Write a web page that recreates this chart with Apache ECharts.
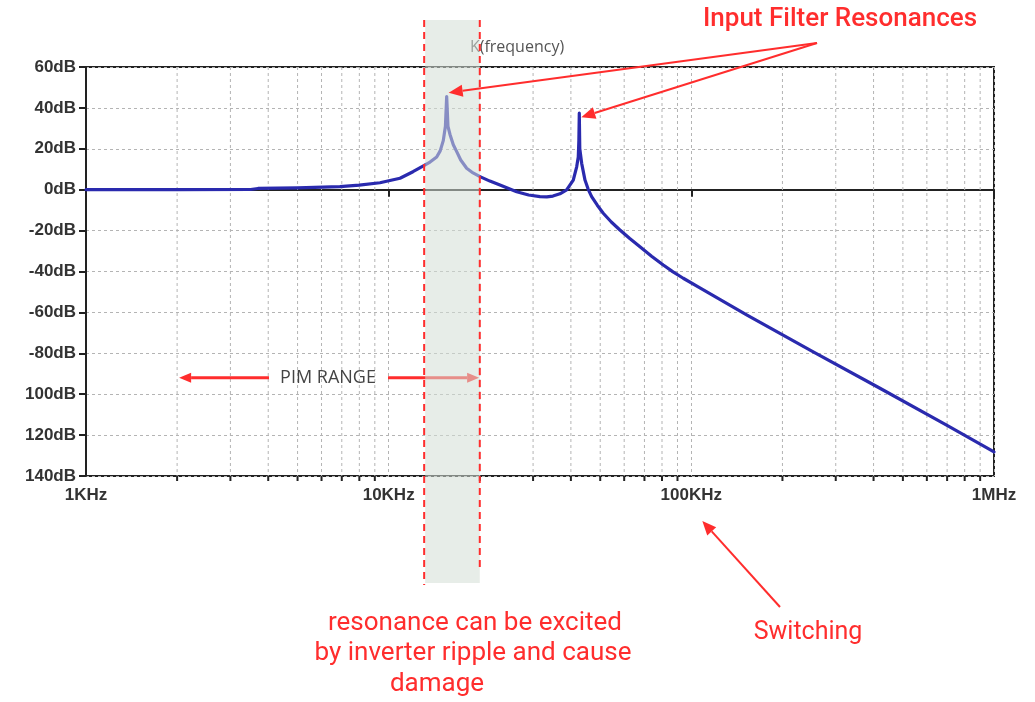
<!DOCTYPE html>
<html><head><meta charset="utf-8">
<script src="https://cdn.jsdelivr.net/npm/echarts@6/dist/echarts.min.js"></script>
<style>html,body{margin:0;padding:0;background:#fff}#c{width:1035px;height:702px}</style>
</head><body><div id="c"></div>
<script>
// ---- data ----
const freqHz = [1000, 2000, 3500, 3700, 5000, 6900, 8000, 9360, 10900, 12030, 12980, 13700, 14410, 14800, 15150, 15400, 15548, 15700, 15945, 16350, 16780, 17300, 18100, 19000, 20030, 21600, 23320, 26480, 29000, 31610, 33300, 34890, 36800, 38730, 40730, 41800, 42310, 42500, 42640, 42800, 43420, 44530, 45600, 46840, 48900, 51170, 54400, 58080, 62600, 67650, 73900, 80780, 87000, 94040, 105000, 152300, 252800, 419900, 697300, 1000000];
const gainDb = [0, 0, 0.1, 0.6, 0.9, 1.5, 2.2, 3.4, 5.6, 8.8, 11.5, 13.5, 16, 19, 24, 31, 45.5, 31, 27, 22, 18.6, 14.5, 10.5, 8.2, 6.4, 4.2, 2.3, -1, -2.6, -3.4, -3.5, -3.1, -2.0, -0.1, 4.7, 11.2, 16, 24, 37.4, 20, 12.9, 4.7, 0.3, -3.4, -7.6, -11.5, -15.8, -19.7, -23.9, -27.9, -32.5, -36.8, -40.2, -43.3, -47.4, -61.2, -79.3, -97.1, -115.1, -128.2];
const xTickValues = [1000, 10000, 100000, 1000000];
const xTickLabels = ['1KHz', '10KHz', '100KHz', '1MHz'];
const minorFreqs = [2000, 3000, 4000, 5000, 6000, 7000, 8000, 9000, 20000, 30000, 40000, 50000, 60000, 70000, 80000, 90000, 200000, 300000, 400000, 500000, 600000, 700000, 800000, 900000];
const yTickValues = [-140, -120, -100, -80, -60, -40, -20, 0, 20, 40, 60];
const yTickLabels = ['140dB', '120dB', '100dB', '-80dB', '-60dB', '-40dB', '-20dB', '0dB', '20dB', '40dB', '60dB'];
const bandFreqs = [13100, 20000];
const peakFreqs = [15548, 42640];
const peakDb = [45.5, 37.4];
const pimRangeFreqs = [2000, 19900];
const pimRangeDb = -92;

const chart = echarts.init(document.getElementById('c'));
const yMin = -140, yMax = 60;
const gridColor = '#b4b4b4';
chart.setOption({
  animation: false,
  backgroundColor: '#fff',
  grid: { left: 86, right: 41, top: 67, bottom: 226, show: true, borderColor: '#222', borderWidth: 2, backgroundColor: 'transparent' },
  xAxis: {
    type: 'log', logBase: 10, min: 1000, max: 1000000,
    axisLine: { show: true, lineStyle: { color: '#222', width: 2 } },
    axisTick: { show: true, length: 7, lineStyle: { color: '#222', width: 2 } },
    axisLabel: {
      margin: 11, color: '#333', fontFamily: 'Liberation Sans', fontWeight: 'bold', fontSize: 17,
      showMinLabel: true, showMaxLabel: true,
      formatter: v => xTickLabels[Math.round(Math.log10(v)) - 3]
    },
    splitLine: { show: true, lineStyle: { color: gridColor, width: 1, type: [3, 3] } }
  },
  yAxis: {
    type: 'value', min: yMin, max: yMax, interval: 20,
    axisLine: { show: true, lineStyle: { color: '#222', width: 2 } },
    axisTick: { show: true, length: 7, lineStyle: { color: '#222', width: 2 } },
    axisLabel: {
      margin: 10, color: '#333', fontFamily: 'Liberation Sans', fontWeight: 'bold', fontSize: 17,
      formatter: v => yTickLabels[yTickValues.indexOf(v)]
    },
    splitLine: { show: true, lineStyle: { color: gridColor, width: 1, type: [3, 3] } }
  },
  series: [
    {
      type: 'custom', z: 1, silent: true, clip: false,
      data: minorFreqs.map(f => [f, yMin]),
      renderItem: (params, api) => {
        const f = api.value(0);
        const top = api.coord([f, yMax]);
        const bot = api.coord([f, yMin]);
        return {
          type: 'group', children: [
            { type: 'line', shape: { x1: bot[0], y1: top[1], x2: bot[0], y2: bot[1] }, style: { stroke: gridColor, lineWidth: 1, lineDash: [3, 3] } },
            { type: 'line', shape: { x1: bot[0], y1: bot[1], x2: bot[0], y2: bot[1] + 5 }, style: { stroke: '#222', lineWidth: 2 } }
          ]
        };
      }
    },
    {
      type: 'line', z: 3, showSymbol: false, silent: true,
      data: freqHz.map((f, i) => [f, gainDb[i]]),
      lineStyle: { color: '#2a2aae', width: 3.2, join: 'round', cap: 'round' }
    }
  ]
});

function px(f, db) { return chart.convertToPixel({ gridIndex: 0 }, [f, db]); }
function arrow(x1, y1, x2, y2, color, w, hl, hw, z) {
  const dx = x2 - x1, dy = y2 - y1, L = Math.sqrt(dx * dx + dy * dy);
  const ux = dx / L, uy = dy / L;
  const bx = x2 - ux * hl, by = y2 - uy * hl;
  return [
    { type: 'line', z: z, silent: true, shape: { x1: x1, y1: y1, x2: bx, y2: by }, style: { stroke: color, lineWidth: w } },
    { type: 'polygon', z: z, silent: true, shape: { points: [[x2, y2], [bx - uy * hw, by + ux * hw], [bx + uy * hw, by - ux * hw]] }, style: { fill: color } }
  ];
}
const red = '#ff2d2d';
const bx1 = px(bandFreqs[0], 0)[0];
const bx2 = px(bandFreqs[1], 0)[0];
const p1 = px(peakFreqs[0], peakDb[0]);
const p2 = px(peakFreqs[1], peakDb[1]);
const pimL = px(pimRangeFreqs[0], pimRangeDb);
const pimR = px(pimRangeFreqs[1], pimRangeDb);
const pimMid = 328;

const g = [];
// K(frequency) label (under the band)
g.push({ type: 'text', z: 40, silent: true, x: 517, y: 47, style: { text: 'K(frequency)', fill: '#555', font: '16px "Open Sans"', textAlign: 'center', textVerticalAlign: 'middle' } });
// PIM RANGE
g.push({ type: 'text', z: 40, silent: true, x: pimMid, y: pimL[1], style: { text: 'PIM RANGE', fill: '#444', font: '18px "Open Sans"', textAlign: 'center', textVerticalAlign: 'middle' } });
arrow(pimMid - 59, pimL[1], pimL[0] + 2, pimL[1], red, 3, 12, 5, 40).forEach(e => g.push(e));
arrow(pimMid + 60, pimL[1], pimR[0], pimR[1], red, 3, 12, 5, 40).forEach(e => g.push(e));
// band overlay
g.push({ type: 'rect', z: 50, silent: true, shape: { x: bx1 + 1, y: 20, width: bx2 - bx1 - 1, height: 563 }, style: { fill: 'rgba(212,222,214,0.55)' } });
// dashed band edges
[bx1, bx2].forEach((x, i) => g.push({ type: 'line', z: 60, silent: true, shape: { x1: x, y1: 20, x2: x, y2: i === 0 ? 585 : 570 }, style: { stroke: red, lineWidth: 2, lineDash: [7, 5] } }));
// Input Filter Resonances
g.push({ type: 'text', z: 60, silent: true, x: 840, y: 19, style: { text: 'Input Filter Resonances', fill: red, font: '500 26px Roboto', textAlign: 'center', textVerticalAlign: 'middle' } });
arrow(817, 43, p1[0] + 2, p1[1] - 4, red, 2, 14, 6, 60).forEach(e => g.push(e));
arrow(817, 43, p2[0] + 2, p2[1] + 4, red, 2, 14, 6, 60).forEach(e => g.push(e));
// Switching
const sw = px(100000, yMin);
g.push({ type: 'text', z: 60, silent: true, x: 808, y: 633, style: { text: 'Switching', fill: red, font: '25px Roboto', textAlign: 'center', textVerticalAlign: 'middle' } });
arrow(780, 607, sw[0] + 11, sw[1] + 45, red, 2, 14, 6, 60).forEach(e => g.push(e));
// resonance note
g.push({ type: 'text', z: 60, silent: true, x: 475, y: 623, style: { text: 'resonance can be excited', fill: red, font: '26px Roboto', textAlign: 'center', textVerticalAlign: 'middle' } });
g.push({ type: 'text', z: 60, silent: true, x: 473, y: 653, style: { text: 'by inverter ripple and cause', fill: red, font: '26px Roboto', textAlign: 'center', textVerticalAlign: 'middle' } });
g.push({ type: 'text', z: 60, silent: true, x: 437, y: 684, style: { text: 'damage', fill: red, font: '26px Roboto', textAlign: 'center', textVerticalAlign: 'middle' } });

chart.setOption({ graphic: { elements: g } });
</script>
</body></html>
